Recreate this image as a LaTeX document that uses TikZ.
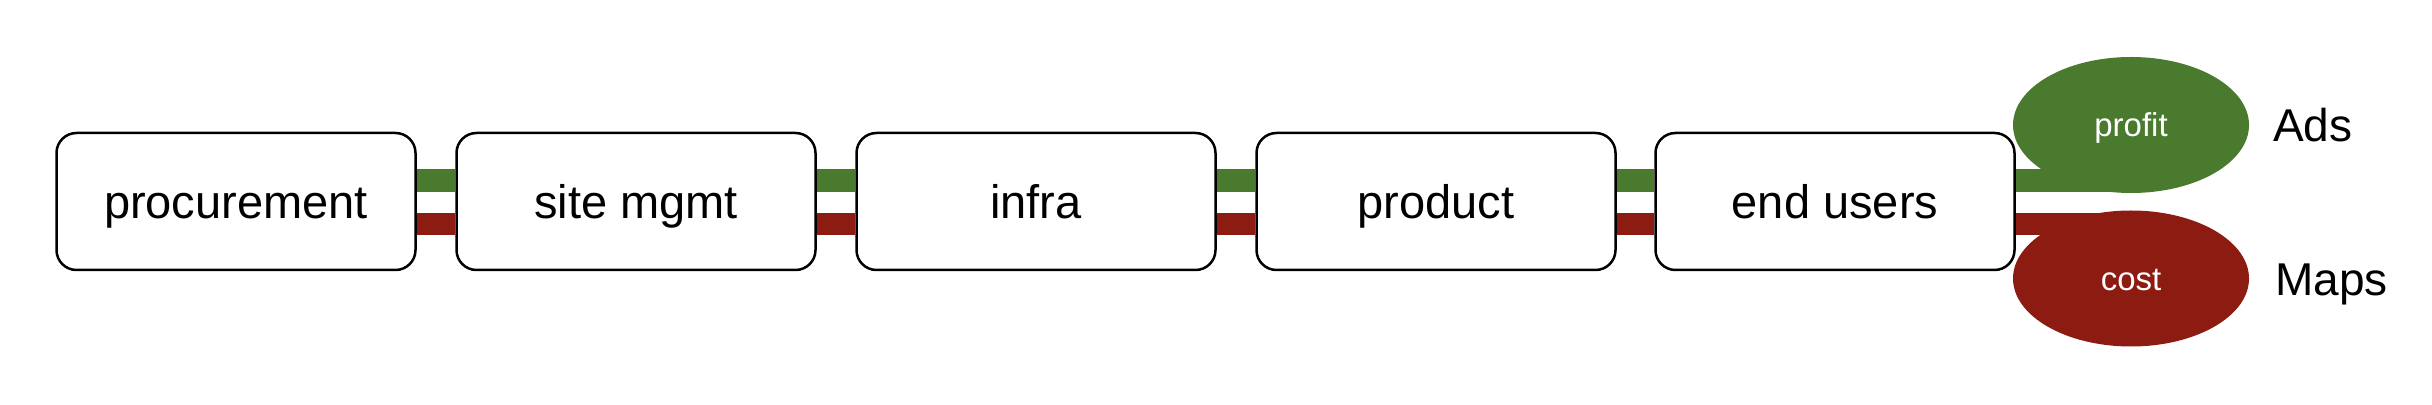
\documentclass[tikz,border=0pt]{standalone}
\usepackage{fontspec}
\setmainfont{Liberation Sans}
\usetikzlibrary{shapes.geometric,backgrounds}
\definecolor{bandgreen}{RGB}{74,122,46}
\definecolor{bandred}{RGB}{140,27,18}
\tikzset{
  stagebox/.style={draw=black, line width=2.5pt, fill=white, rounded corners=20pt,
    minimum width=359pt, minimum height=137pt, inner sep=0pt,
    text height=33.7pt, text depth=0pt,
    font=\fontsize{47}{56}\selectfont},
  gband/.style={draw=bandgreen, line width=23pt},
  rband/.style={draw=bandred, line width=22pt},
  blob/.style={ellipse, inner sep=0pt, minimum width=236pt, minimum height=136pt,
    text height=23.6pt, text depth=0pt,
    text=white, font=\fontsize{33}{40}\selectfont},
  sidelabel/.style={anchor=west, inner sep=0pt, text height=32.9pt, text depth=0pt,
    font=\fontsize{46}{55}\selectfont}
}
\begin{document}
\begin{tikzpicture}[x=1pt,y=1pt]
\useasboundingbox (0,0) rectangle (2432,404);
\node[stagebox] (b1) at (236,202.5) {procurement};
\node[stagebox] (b2) at (636,202.5) {site mgmt};
\node[stagebox] (b3) at (1036,202.5) {infra};
\node[stagebox] (b4) at (1436,202.5) {product};
\node[stagebox] (b5) at (1835,202.5) {end users};
\node[blob, fill=bandgreen] (pe) at (2131,279) {profit};
\node[blob, fill=bandred] (ce) at (2131,125.5) {cost};
\node[sidelabel] (ads) at (2273,279) {Ads};
\node[sidelabel] (maps) at (2275,125) {Maps};
\begin{scope}[on background layer]
\foreach \a/\b in {b1/b2,b2/b3,b3/b4,b4/b5}{
  \draw[gband] ([yshift=21pt]\a.east) -- ([yshift=21pt]\b.west);
  \draw[rband] ([yshift=-22.5pt]\a.east) -- ([yshift=-22.5pt]\b.west);
}
\draw[gband] ([yshift=21pt]b5.east) -- ([yshift=21pt]b5.east -| pe.center);
\draw[rband] ([yshift=-22.5pt]b5.east) -- ([yshift=-22.5pt]b5.east -| ce.center);
\end{scope}
\end{tikzpicture}
\end{document}
